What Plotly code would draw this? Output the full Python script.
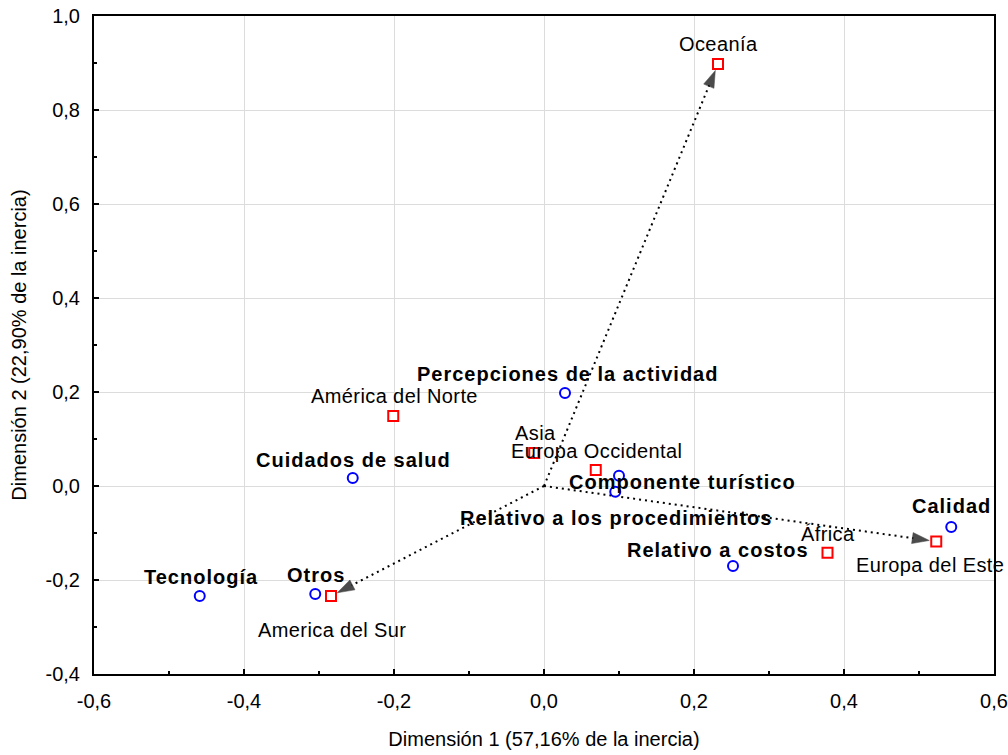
import plotly.graph_objects as go

# Row points: world regions
regions = ["Oceanía", "América del Norte", "Asia", "Europa Occidental",
           "África", "Europa del Este", "America del Sur"]
region_x = [0.232, -0.201, -0.013, 0.069, 0.378, 0.523, -0.284]
region_y = [0.898, 0.149, 0.070, 0.034, -0.142, -0.118, -0.234]

# Column points: factor categories
factors = ["Percepciones de la actividad", "Cuidados de salud", "Componente turístico",
           "Relativo a los procedimientos", "Relativo a costos", "Calidad",
           "Tecnología", "Otros"]
factor_x = [0.028, -0.255, 0.100, 0.095, 0.252, 0.543, -0.459, -0.305]
factor_y = [0.198, 0.017, 0.022, -0.012, -0.170, -0.087, -0.234, -0.230]

# Regions reached by an arrow from the origin
arrow_targets = ["Oceanía", "Europa del Este", "America del Sur"]

x_ticks = [-0.6, -0.4, -0.2, 0.0, 0.2, 0.4, 0.6]
x_tick_labels = ["-0,6", "-0,4", "-0,2", "0,0", "0,2", "0,4", "0,6"]
y_ticks = [-0.4, -0.2, 0.0, 0.2, 0.4, 0.6, 0.8, 1.0]
y_tick_labels = ["-0,4", "-0,2", "0,0", "0,2", "0,4", "0,6", "0,8", "1,0"]

x_title = "Dimensión 1 (57,16% de la inercia)"
y_title = "Dimensión 2 (22,90% de la inercia)"

# Label offsets in pixels (dx, dy; dy positive = upward)
region_label_shift = {
    "Oceanía": (0, 20), "América del Norte": (1, 20), "Asia": (1, 20),
    "Europa Occidental": (1, 19), "África": (0, 19),
    "Europa del Este": (-6, -24), "America del Sur": (1, -34),
}
factor_label_shift = {
    "Percepciones de la actividad": (2, 19), "Cuidados de salud": (1, 18),
    "Componente turístico": (63, -6), "Relativo a los procedimientos": (1, -26),
    "Relativo a costos": (-15, 16), "Calidad": (0, 21),
    "Tecnología": (1, 19), "Otros": (1, 19),
}

FONT = "Liberation Sans, Arial, sans-serif"

fig = go.Figure()

# Dotted arrows from the origin to selected regions
for name in arrow_targets:
    i = regions.index(name)
    fig.add_trace(go.Scatter(
        x=[0.0, region_x[i]], y=[0.0, region_y[i]],
        mode="lines+markers",
        line=dict(color="black", width=2, dash="2px,4px"),
        marker=dict(symbol=["circle", "arrow"], size=[0, 18], color="black",
                    angleref="previous", standoff=7,
                    line=dict(width=0.5, color="black")),
        hoverinfo="skip", showlegend=False,
    ))

# Factor categories (blue circles)
fig.add_trace(go.Scatter(
    x=factor_x, y=factor_y, mode="markers",
    marker=dict(symbol="circle", size=10, color="white",
                line=dict(color="#0000ff", width=2)),
    text=factors, hoverinfo="text", showlegend=False,
))

# Regions (red squares)
fig.add_trace(go.Scatter(
    x=region_x, y=region_y, mode="markers",
    marker=dict(symbol="square", size=10, color="white",
                line=dict(color="#ff0000", width=2)),
    text=regions, hoverinfo="text", showlegend=False,
))

annotations = []
for name, x, y in zip(regions, region_x, region_y):
    dx, dy = region_label_shift[name]
    annotations.append(dict(
        x=x, y=y, xref="x", yref="y",
        text='<span style="letter-spacing:0.4px">' + name + '</span>',
        showarrow=False, xshift=dx, yshift=dy, xanchor="center", yanchor="middle",
        font=dict(family=FONT, size=20, color="black"),
    ))
for name, x, y in zip(factors, factor_x, factor_y):
    dx, dy = factor_label_shift[name]
    annotations.append(dict(
        x=x, y=y, xref="x", yref="y",
        text='<b><span style="letter-spacing:1px">' + name + '</span></b>',
        showarrow=False, xshift=dx, yshift=dy,
        xanchor="center", yanchor="middle",
        font=dict(family=FONT, size=20, color="black"),
    ))

axis_common = dict(
    automargin=False,
    showgrid=True, gridcolor="#dcdcdc", gridwidth=1,
    zeroline=False,
    showline=True, linecolor="black", linewidth=2, mirror=True,
    ticks="inside", ticklen=5, tickwidth=1.5, tickcolor="black",
    tickfont=dict(family=FONT, size=20, color="black"),
    ticklabelstandoff=8,
)

fig.update_layout(
    width=1008, height=755, autosize=False,
    margin=dict(l=94, r=14, t=16, b=81),
    paper_bgcolor="white", plot_bgcolor="white",
    annotations=annotations,
    xaxis=dict(
        range=[-0.6, 0.6], tickmode="array", tickvals=x_ticks, ticktext=x_tick_labels,
        minor=dict(tickmode="linear", tick0=0.1, dtick=0.2, ticks="inside",
                   ticklen=3, tickwidth=1.5, tickcolor="black", showgrid=False),
        title=dict(text=x_title, standoff=21,
                   font=dict(family=FONT, size=20, color="black")),
        **axis_common,
    ),
    yaxis=dict(
        range=[-0.4, 1.0], tickmode="array", tickvals=y_ticks, ticktext=y_tick_labels,
        minor=dict(tickmode="linear", tick0=0.1, dtick=0.2, ticks="inside",
                   ticklen=3, tickwidth=1.5, tickcolor="black", showgrid=False),
        title=dict(text=y_title, standoff=14,
                   font=dict(family=FONT, size=20, color="black")),
        **axis_common,
    ),
)

fig.write_html("out.html")
